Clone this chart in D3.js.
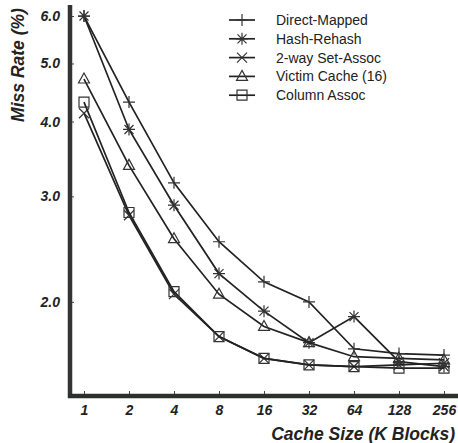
<!DOCTYPE html>
<meta charset="utf-8">
<style>
  body { margin: 0; background: #fff; }
  .series { fill: none; stroke: #222; stroke-width: 1.7px; }
  .mark { fill: none; stroke: #333; stroke-width: 1.2px; }
  .tick text { font-family: "Liberation Sans", Arial, sans-serif; font-weight: bold; font-style: italic; font-size: 14px; fill: #222; }
  .tick line { stroke: #444; }
  .legend text { font-family: "Liberation Sans", Arial, sans-serif; font-size: 14px; fill: #222; }
  .title { font-family: "Liberation Sans", Arial, sans-serif; font-weight: bold; font-style: italic; font-size: 17.5px; fill: #222; }
</style>
<svg width="458" height="443"></svg>
<script src="https://d3js.org/d3.v7.min.js"></script>
<script>

var sizes = [1, 2, 4, 8, 16, 32, 64, 128, 256];
var yTicks = [2.0, 3.0, 4.0, 5.0, 6.0];

var directMapped = [6.0, 4.31, 3.16, 2.52, 2.16, 2.00, 1.67, 1.64, 1.63];
var hashRehash   = [6.0, 3.88, 2.90, 2.23, 1.93, 1.71, 1.89, 1.59, 1.56];
var twoWay       = [4.13, 2.79, 2.06, 1.75, 1.61, 1.57, 1.56, 1.57, 1.58];
var victimCache  = [4.71, 3.38, 2.55, 2.06, 1.82, 1.71, 1.62, 1.61, 1.60];
var columnAssoc  = [4.31, 2.82, 2.08, 1.75, 1.61, 1.57, 1.56, 1.55, 1.55];

var seriesNames = ["Direct-Mapped", "Hash-Rehash", "2-way Set-Assoc", "Victim Cache (16)", "Column Assoc"];
var seriesValues = [directMapped, hashRehash, twoWay, victimCache, columnAssoc];
var seriesMarks = ["plus", "star", "cross", "triangle", "square"];

var svg = d3.select("svg");

var x = d3.scaleLog().base(2).domain([1, 256]).range([84, 444]);
var y = d3.scaleLog().domain([1.393, 6.26]).range([396, 5]);

// marker shapes, open strokes
function markPath(type) {
  if (type == "plus") return "M-6,0H6M0,-6V6";
  if (type == "star") return "M-6,0H6M0,-6V6M-4.5,-4.5L4.5,4.5M-4.5,4.5L4.5,-4.5";
  if (type == "cross") return "M-5,-5L5,5M-5,5L5,-5";
  if (type == "triangle") return "M0,-6L5.5,4L-5.5,4Z";
  return "M-5,-5H5V5H-5Z";
}

// axes
var xAxis = d3.axisBottom(x).tickValues(sizes).tickFormat(d3.format("d")).tickSize(-5).tickPadding(9);
var yAxis = d3.axisLeft(y).tickValues(yTicks).tickFormat(d3.format(".1f")).tickSize(-4).tickPadding(8);

var gx = svg.append("g").attr("transform", "translate(0,396)").call(xAxis);
gx.select(".domain").remove();
var gy = svg.append("g").attr("transform", "translate(70,0)").call(yAxis);
gy.select(".domain").remove();
gy.selectAll(".tick text").attr("dx", -2);

svg.append("line")
    .attr("x1", 70).attr("x2", 70).attr("y1", 5).attr("y2", 398)
    .style("stroke", "#333").style("stroke-width", 4.5);
svg.append("line")
    .attr("x1", 68).attr("x2", 458).attr("y1", 396).attr("y2", 396)
    .style("stroke", "#2a302c").style("stroke-width", 4.5);

// lines and markers
var line = d3.line()
    .x(function (d, i) { return x(sizes[i]); })
    .y(function (d) { return y(d); });

seriesValues.forEach(function (vals, k) {
  svg.append("path")
      .datum(vals)
      .attr("class", "series")
      .attr("d", line);
  svg.selectAll(".m" + k)
      .data(vals)
      .enter().append("path")
      .attr("class", "mark m" + k)
      .attr("transform", function (d, i) { return "translate(" + x(sizes[i]) + "," + y(d) + ")"; })
      .attr("d", markPath(seriesMarks[k]));
});

// legend
var legend = svg.selectAll("g.legend")
    .data(seriesNames)
    .enter().append("g")
    .attr("class", "legend")
    .attr("transform", function (d, i) { return "translate(229," + (20 + i * 18.8) + ")"; });
legend.append("line")
    .attr("x1", 0).attr("x2", 26).attr("y1", 0).attr("y2", 0)
    .style("stroke", "#222").style("stroke-width", 1.7);
legend.append("path")
    .attr("class", "mark")
    .attr("transform", "translate(13,0)")
    .attr("d", function (d, i) { return markPath(seriesMarks[i]); });
legend.append("text")
    .attr("x", 47).attr("y", 0).attr("dy", "0.35em")
    .text(function (d) { return d; });

// titles
svg.append("text")
    .attr("class", "title")
    .attr("text-anchor", "end")
    .attr("x", 455).attr("y", 440)
    .text("Cache Size (K Blocks)");
svg.append("text")
    .attr("class", "title")
    .attr("text-anchor", "middle")
    .attr("transform", "translate(24,65) rotate(-90)")
    .text("Miss Rate (%)");

</script>
